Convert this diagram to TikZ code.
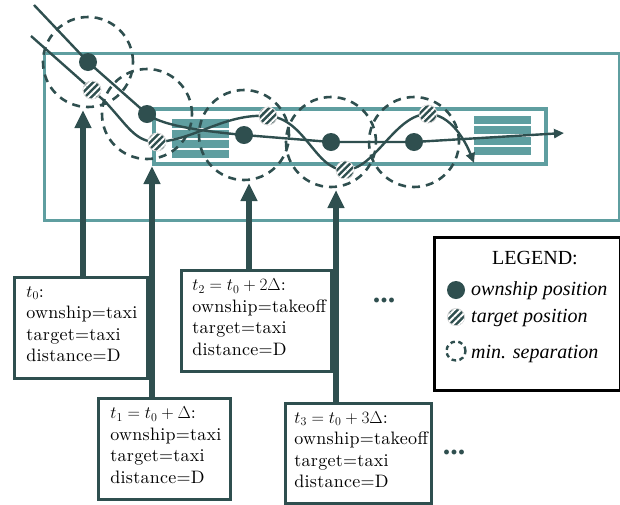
\documentclass[tikz,border=0pt]{standalone}
\usepackage{fontspec}
\newfontfamily\timesf{Liberation Serif}
\newfontfamily\boxf{lmroman10-regular.otf}[LetterSpace=1.5]
\usetikzlibrary{arrows.meta,patterns.meta}
\definecolor{dsg}{RGB}{47,79,79}
\definecolor{tealc}{RGB}{95,158,160}
\newcommand{\boxend}{\\[-13.6pt]\mbox{}}
\tikzset{
  ownc/.style={circle, fill=dsg, minimum size=18pt, inner sep=0pt},
  tgtc/.style={circle, fill=dsg, minimum size=18pt, inner sep=0pt, draw=gray!35, line width=0.8pt,
    postaction={pattern={Lines[angle=45,distance=4.6pt,line width=1.9pt]}, pattern color=white}},
  sepcirc/.style={draw=dsg, line width=2.6pt, dash pattern=on 8pt off 6pt},
  pathc/.style={draw=dsg, line width=2.4pt},
  varrow/.style={draw=dsg, line width=5.5pt, -{Triangle[width=16pt,length=18pt]}},
  infobox/.style={draw=dsg, line width=2.8pt, fill=white, anchor=north west, align=left,
    inner xsep=12pt, inner ysep=0pt, font=\boxf\fontsize{18}{21.4}\selectfont},
  stripe/.style={fill=tealc},
  dotsf/.style={font=\timesf\bfseries\fontsize{30}{30}\selectfont, text=dsg, anchor=base},
  legf/.style={font=\timesf\itshape\fontsize{20}{24}\selectfont, anchor=base west, inner sep=0pt},
}
\begin{document}
\begin{tikzpicture}[x=1pt,y=-1pt]
\useasboundingbox (0,0) rectangle (620,504);
% outer area and runway
\draw[tealc, line width=3pt] (44,53) rectangle (619,220);
\draw[tealc, line width=4pt] (154,109) rectangle (546,164);
\foreach \ya/\yb in {119/128,130/138,140/148,150/158}
  \fill[stripe] (172,\ya) rectangle (229,\yb);
\foreach \ya/\yb in {116/124,126/134,137/145,147/155}
  \fill[stripe] (474,\ya) rectangle (531,\yb);
% positions
\coordinate (os) at (34,5);
\coordinate (o1) at (88,62);
\coordinate (o2) at (147,114);
\coordinate (o3) at (244,135);
\coordinate (o4) at (331,142);
\coordinate (o5) at (414,142);
\coordinate (oe) at (564,133);
\coordinate (ts) at (31,36);
\coordinate (t1) at (92,90);
\coordinate (tb) at (105,101.5);
\coordinate (t2) at (157,142);
\coordinate (t3) at (268,116);
\coordinate (t4) at (345,170);
\coordinate (t5) at (428,114);
\coordinate (te) at (474,163);
% separation circles
\foreach \c in {o1,o2,o3,o4,o5}
  \draw[sepcirc] (\c) circle[radius=45pt];
% paths
\draw[pathc, -{Triangle[width=9pt,length=10pt]}] (os) -- (o1) -- (o2) .. controls (160,124) and (190,130) .. (o3) -- (o4) -- (o5) -- (oe);
\draw[pathc, -{Triangle[width=9pt,length=10pt]}] (ts) -- (t1) -- (tb) .. controls (128,126) and (135,142) .. (t2)
  .. controls (195,140) and (225,113) .. (t3) .. controls (305,118) and (315,170) .. (t4)
  .. controls (375,170) and (395,114) .. (t5) .. controls (450,114) and (465,140) .. (te);
% dots
\foreach \c in {o1,o2,o3,o4,o5}
  \node[ownc] (d\c) at (\c) {};
\foreach \c in {t1,t2,t3,t4,t5}
  \node[tgtc] (d\c) at (\c) {};
% info boxes
\node[infobox, text width=109pt, minimum height=101pt] (b0) at (13,276)
  {$t_0$:\\ownship=taxi\\target=taxi\\distance=D\boxend};
\node[infobox, text width=108pt, minimum height=101pt] (b1) at (97,397)
  {$t_1=t_0+\Delta$:\\ownship=taxi\\target=taxi\\distance=D\boxend};
\node[infobox, text width=128pt, inner xsep=11pt, minimum height=101pt] (b2) at (180,269)
  {$t_2=t_0+2\Delta$:\\ownship=takeoff\\target=taxi\\distance=D\boxend};
\node[infobox, text width=128pt, inner xsep=9pt, minimum height=100pt] (b3) at (284,402)
  {$t_3=t_0+3\Delta$:\\ownship=takeoff\\target=taxi\\distance=D\boxend};
% arrows
\coordinate (a0) at (83,110);
\coordinate (a1) at (152,166);
\coordinate (a2) at (249,183);
\coordinate (a3) at (336,190);
\draw[varrow] (a0 |- b0.north) -- (a0);
\draw[varrow] (a1 |- b1.north) -- (a1);
\draw[varrow] (a2 |- b2.north) -- (a2);
\draw[varrow] (a3 |- b3.north) -- (a3);
% ellipses
\node[dotsf] (el1) at (384,302) {...};
\node[dotsf] (el2) at (454,454) {...};
% legend
\node[draw=black, line width=3pt, minimum width=186pt, minimum height=153pt, anchor=north west] (leg) at (433,236) {};
\node[font=\timesf\fontsize{20}{24}\selectfont, anchor=base] (lt) at (535,264) {LEGEND:};
\node[ownc] (l1) at (456,290) {};
\node[tgtc, minimum size=17pt] (l2) at (456,317) {};
\draw[draw=dsg, line width=2.4pt, dash pattern=on 4.5pt off 3.5pt] (456,351) circle[radius=9.5pt];
\coordinate (l3) at (456,351);
\node[legf] (lt1) at (471,295) {ownship position};
\node[legf] (lt2) at (471,322) {target position};
\node[legf] (lt3) at (471,358) {min. separation};
\end{tikzpicture}
\end{document}
